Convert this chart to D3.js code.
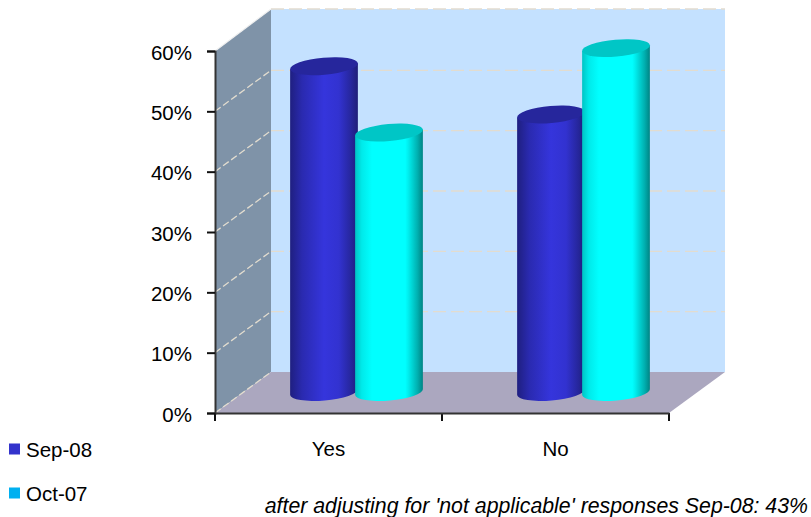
<!DOCTYPE html>
<html>
<head>
<meta charset="utf-8">
<script src="https://cdn.jsdelivr.net/npm/d3@7/dist/d3.min.js"></script>
<style>
html, body { margin: 0; padding: 0; background: #fff; }
svg { display: block; }
text { font-family: "Liberation Sans", Arial, sans-serif; fill: #000; }
</style>
</head>
<body>
<svg id="chart" width="811" height="517"></svg>
<script>
const categories = ["Yes", "No"];
const seriesNames = ["Sep-08", "Oct-07"];
const sep08 = [54, 46];
const oct07 = [43, 57];
const tickValues = [0, 10, 20, 30, 40, 50, 60];
const note = "after adjusting for 'not applicable' responses Sep-08: 43%";

const svg = d3.select("#chart");
const depth = { dx: 56, dy: -41 };
const y = d3.scaleLinear().domain([0, 60]).range([413, 51]);
const x = d3.scaleBand().domain(categories).range([215, 669]);

const x0 = x.range()[0], x1 = x.range()[1], y0 = y(0), yTop = y(60);
const pts = a => a.map(p => p.join(",")).join(" ");

// Shading across the cylinders: dark rims, bright body
const defs = svg.append("defs");
const ramps = [
  { id: "shade-0", stops: [[0, "#1f1f80"], [0.18, "#2a2ab0"], [0.5, "#3535dc"], [0.72, "#3232d0"], [0.9, "#26269c"], [1, "#1e1e78"]] },
  { id: "shade-1", stops: [[0, "#00c4c4"], [0.1, "#00eaea"], [0.25, "#00ffff"], [0.74, "#00ffff"], [0.78, "#00f0f0"], [0.92, "#00b0b0"], [1, "#008484"]] }
];
ramps.forEach(r => {
  const g = defs.append("linearGradient").attr("id", r.id);
  r.stops.forEach(s => g.append("stop").attr("offset", s[0]).attr("stop-color", s[1]));
});
const topColors = ["#26269c", "#00c6c6"];

// Back wall, side wall, floor
const lift = -1;
svg.append("polygon").attr("fill", "#c4e1ff")
  .attr("points", pts([[x0 + depth.dx, yTop + depth.dy + lift], [x1 + depth.dx, yTop + depth.dy + lift], [x1 + depth.dx, y0 + depth.dy], [x0 + depth.dx, y0 + depth.dy]]));
svg.append("polygon").attr("fill", "#7f93a8")
  .attr("points", pts([[x0, yTop], [x0 + depth.dx, yTop + depth.dy + lift], [x0 + depth.dx, y0 + depth.dy], [x0, y0]]));
svg.append("polygon").attr("fill", "#aba7bf")
  .attr("points", pts([[x0, y0], [x0 + depth.dx, y0 + depth.dy], [x1 + depth.dx, y0 + depth.dy], [x1, y0]]));

// Dashed gridlines along the side wall and back wall
const grid = svg.append("g").attr("fill", "none").attr("stroke", "#e2dccf").attr("stroke-width", 1.3);
tickValues.forEach(t => {
  const yy = y(t), up = t === 60 ? lift : 0;
  grid.append("path")
    .attr("d", `M${x0},${yy}L${x0 + depth.dx},${yy + depth.dy + up}`)
    .attr("stroke", t === 60 ? "#f0f0f0" : null)
    .attr("stroke-dasharray", t === 60 ? null : "7 3");
  if (t > 0) {
    grid.append("path")
      .attr("d", `M${x0 + depth.dx},${yy + depth.dy + up}H${x1 + depth.dx}`)
      .attr("stroke-dasharray", "13 5");
  }
});

// Cylinders stand on the middle of the floor's depth
const bars = svg.append("g");
const rx = 34, ry = 8.5, tilt = -5;
const midX = depth.dx / 2, midY = depth.dy / 2 - 0.5;
const offset = 32.5;
const rad = tilt * Math.PI / 180;
const ex = rx * Math.cos(rad), ey = rx * Math.sin(rad);

function cylinder(cx, value, s) {
  const top = y(value) + midY, base = y(0) + midY;
  bars.append("path").attr("fill", `url(#shade-${s})`)
    .attr("d", `M${cx - ex},${top - ey}L${cx - ex},${base - ey}` +
               `A${rx},${ry} ${tilt} 0 0 ${cx + ex},${base + ey}L${cx + ex},${top + ey}Z`);
  bars.append("ellipse").attr("fill", topColors[s])
    .attr("cx", cx).attr("cy", top).attr("rx", rx).attr("ry", ry)
    .attr("transform", `rotate(${tilt} ${cx} ${top})`);
}
categories.forEach((c, i) => {
  const cx = x(c) + x.bandwidth() / 2 + midX;
  cylinder(cx - offset, sep08[i], 0);
  cylinder(cx + offset, oct07[i], 1);
});

// Axes
const yAxis = d3.axisLeft(y).tickValues(tickValues).tickFormat(d => d + "%").tickSize(8).tickPadding(15);
const gy = svg.append("g").attr("transform", `translate(${x0},0)`).call(yAxis);
const xTicks = svg.append("g");
const gx = svg.append("g").attr("transform", `translate(0,${y0})`)
  .call(d3.axisBottom(x).tickSize(0).tickPadding(28));
[x0, x0 + x.bandwidth(), x1].forEach(v => {
  xTicks.append("line").attr("x1", v).attr("x2", v).attr("y1", y0).attr("y2", y0 + 8)
    .attr("stroke", "#111").attr("stroke-width", 2);
});
[gy, gx].forEach(g => {
  g.selectAll(".domain").attr("stroke", "#333").attr("stroke-width", 2);
  g.selectAll(".tick line").attr("stroke", "#111").attr("stroke-width", 2);
  g.selectAll("text").attr("font-size", 20.5).attr("font-family", '"Liberation Sans", Arial, sans-serif').attr("fill", "#000");
});
gy.selectAll("text").attr("dy", "0.4em");

// Legend
const legendColors = ["#3333cc", "#00b0f0"];
const legendRows = [449, 493];
seriesNames.forEach((n, i) => {
  svg.append("rect").attr("x", 9).attr("y", legendRows[i] - 5.5).attr("width", 11).attr("height", 11).attr("fill", legendColors[i]);
  svg.append("text").attr("x", 26).attr("y", legendRows[i] + 8).attr("font-size", 20.5).text(n);
});

// Footnote
svg.append("text").attr("x", 808).attr("y", 513).attr("text-anchor", "end")
  .attr("font-size", 21.3).attr("font-style", "italic").text(note);
</script>
</body>
</html>
